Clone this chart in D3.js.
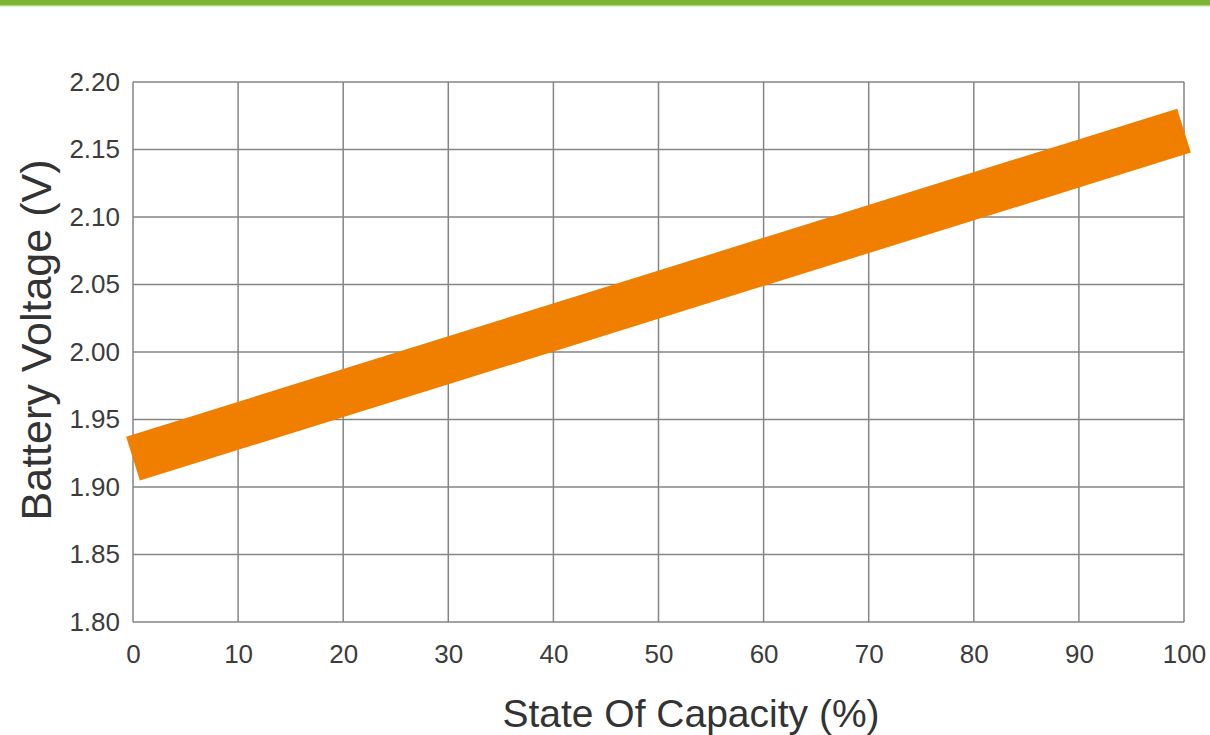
<!DOCTYPE html>
<html><head><meta charset="utf-8">
<script src="https://cdn.jsdelivr.net/npm/d3@7"></script>
<style>body{margin:0;background:#fff}svg{display:block}</style>
</head><body>
<script>
const capacity = [0, 100];
const voltage = [1.921, 2.164];
const xTicks = [0,10,20,30,40,50,60,70,80,90,100];
const yTicks = [1.80,1.85,1.90,1.95,2.00,2.05,2.10,2.15,2.20];
const xTitle = "State Of Capacity (%)";
const yTitle = "Battery Voltage (V)";

const W = 1210, H = 735;
const m = {left:133, right:1184, top:82, bottom:622};
const svg = d3.select("body").append("svg").attr("width", W).attr("height", H);

const defs = svg.append("defs");
const g = defs.append("linearGradient").attr("id","gr").attr("x1",0).attr("y1",0).attr("x2",0).attr("y2",1);
g.append("stop").attr("offset",0).attr("stop-color","#78b22e");
g.append("stop").attr("offset",0.6).attr("stop-color","#7db733");
g.append("stop").attr("offset",1).attr("stop-color","#ffffff").attr("stop-opacity",0);
svg.append("rect").attr("x",0).attr("y",0).attr("width",W).attr("height",8).attr("fill","url(#gr)");

const x = d3.scaleLinear().domain([0,100]).range([m.left, m.right]);
const y = d3.scaleLinear().domain([1.80,2.20]).range([m.bottom, m.top]);

const font = "Liberation Sans, Arial, sans-serif";

// grid
svg.append("g").selectAll("line").data(xTicks).join("line")
  .attr("x1", d=>x(d)).attr("x2", d=>x(d)).attr("y1", m.top).attr("y2", m.bottom)
  .attr("stroke","#858585").attr("stroke-width",1.5);
svg.append("g").selectAll("line").data(yTicks).join("line")
  .attr("x1", m.left).attr("x2", m.right).attr("y1", d=>y(d)).attr("y2", d=>y(d))
  .attr("stroke","#858585").attr("stroke-width",1.5);

// axes labels
const xAxis = d3.axisBottom(x).tickValues(xTicks).tickSize(0).tickPadding(23).tickFormat(d3.format("d"));
const xg = svg.append("g").attr("transform",`translate(0,${m.bottom})`).call(xAxis);
const yAxis = d3.axisLeft(y).tickValues(yTicks).tickSize(0).tickPadding(13).tickFormat(d3.format(".2f"));
const yg = svg.append("g").attr("transform",`translate(${m.left},0)`).call(yAxis);
[xg,yg].forEach(a=>{
  a.select(".domain").remove();
  a.selectAll("text").attr("font-family",font).attr("font-size",26).attr("fill","#3c3c3c");
});

// line
const pts = capacity.map((c,i)=>[c, voltage[i]]);
svg.append("path").datum(pts)
  .attr("d", d3.line().x(d=>x(d[0])).y(d=>y(d[1])))
  .attr("stroke","#f07f00").attr("stroke-width",46).attr("fill","none").attr("stroke-linecap","butt");

svg.append("text").attr("x", 691).attr("y", 727).attr("text-anchor","middle")
  .attr("font-family",font).attr("font-size",39).attr("fill","#333").text(xTitle);
svg.append("text").attr("transform","translate(51,340) rotate(-90)").attr("text-anchor","middle")
  .attr("font-family",font).attr("font-size",43).attr("fill","#333").text(yTitle);
</script>
</body></html>
